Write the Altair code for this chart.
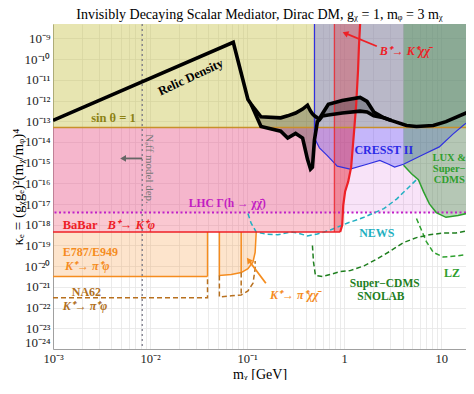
import altair as alt
import pandas as pd

XMIN, XMAX = 1e-3, 18.0
YMIN, YMAX = 1e-24, 5e-9
W, H = 413, 325
FONT = "Liberation Serif"

# ---------------- data ----------------
SIN_LEVEL = 5e-14          # sin(theta)=1
LHC_LEVEL = 3.9e-18        # LHC Gamma(h -> chi chibar)
BABAR_LEVEL = 4.5e-19      # BaBar B+ -> K+ phi
E949_LEVEL = 3.2e-21       # E787/E949 lower edge
NA62_LEVEL = 3.0e-22       # NA62 projection
NEFF_M = 8.3e-3            # N_eff model-dependent bound
BKXX_M = 0.791             # left edge of B+ -> K+ chi chibar band
E949_GAP = [0.0391, 0.0518]
E949_MID = 0.0869

relic_m = [1e-3, 0.072, 0.102, 0.110, 0.139, 0.222, 0.262, 0.316, 0.373, 0.419, 0.450, 0.471,
           0.494, 0.530, 0.556, 0.597, 0.687, 0.955, 1.46, 1.72, 2.02, 2.56, 3.09, 4.39, 5.56,
           8.28, 11.2, 20.0]
relic_k = [1.1e-13, 6.5e-10, 1.14e-12, 6.6e-13, 1.64e-13, 1.47e-13, 1.83e-13, 2.5e-13, 3.9e-13,
           6.0e-13, 3.1e-13, 2.3e-13, 1.83e-13, 1.47e-13, 1.32e-13, 2.3e-13, 6.6e-13, 1.02e-12,
           1.41e-12, 9.1e-13, 2.8e-13, 1.47e-13, 1.07e-13, 6.2e-14, 5.6e-14, 6.2e-14, 9.6e-14,
           3.1e-13]
relic_low_m = relic_m[3:23]
relic_low_k = [6.6e-13, 5.6e-14, 3.3e-14, 1.54e-14, 2.6e-14, 1.54e-14, 1.44e-15, 4.9e-16,
               6.1e-16, 1.24e-14, 9.6e-14, 1.19e-13, 1.83e-13, 2.0e-13, 2.5e-13, 3.1e-13,
               2.8e-13, 1.83e-13, 1.47e-13, 1.07e-13]

cresst_m = [0.494, 0.556, 0.671, 0.849, 1.15, 1.72, 2.33, 2.88, 3.31, 4.09, 6.55, 9.55, 13.2, 16.8, 20.0]
cresst_k = [1.54e-14, 5.2e-15, 2.2e-15, 6.8e-16, 4.9e-16, 8.4e-16, 1.29e-15, 8.4e-16, 6.1e-16,
            8.4e-16, 2.5e-15, 5.8e-15, 2.4e-14, 6.2e-14, 1.19e-13]

lux_m = [4.09, 4.94, 5.82, 6.55, 7.55, 8.89, 11.2, 14.9, 20.0]
lux_k = [7.6e-16, 2.9e-16, 1.5e-16, 4.1e-17, 1.02e-17, 3.9e-18, 2.3e-18, 2.8e-18, 3.9e-18]

lz_m = [5.56, 6.25, 7.03, 8.28, 10.5, 14.2, 20.0]
lz_k = [2.0e-18, 5.6e-19, 1.54e-19, 4.7e-20, 2.75e-20, 3.1e-20, 3.8e-20]

sno_m = [0.471, 0.483, 0.506, 0.597, 0.720, 0.910, 1.15, 1.60, 2.17, 2.95, 4.09, 5.56, 7.55,
         10.5, 14.2, 20.0]
sno_k = [1.0e-19, 1.61e-20, 3.6e-21, 3.2e-21, 4.0e-21, 5.5e-21, 6.1e-21, 1.04e-20, 2.2e-20,
         5.2e-20, 1.38e-19, 2.4e-19, 3.3e-19, 4.0e-19, 4.0e-19, 5.6e-19]

news_m = [0.102, 0.110, 0.124, 0.153, 0.207, 0.281, 0.331, 0.419, 0.530, 0.720, 1.07, 1.60,
          2.56, 3.47, 4.39, 5.69]
news_k = [3.5e-18, 1.19e-18, 4.5e-19, 3.6e-19, 3.3e-19, 4.5e-19, 4.0e-19, 2.9e-19, 3.6e-19,
          5.6e-19, 1.19e-18, 2.3e-18, 6.0e-18, 1.75e-17, 5.1e-17, 1.68e-16]

bk_m = [0.910, 0.955, 0.977, 1.023, 1.10, 1.18, 1.26, 1.33, 1.39, 1.42, 1.46]
bk_k = [4.5e-19, 9.6e-19, 8.2e-18, 4.1e-17, 1.21e-16, 6.1e-16, 2.6e-14, 6.6e-13, 2.9e-11,
        4.2e-10, 5e-9]
bk_at_sin_m = 1.28

e949_m = [0.0518, 0.0687, 0.0869, 0.102, 0.115, 0.121, 0.124]
e949_k = [3.6e-21, 4.0e-21, 4.9e-21, 7.6e-21, 1.61e-20, 4.7e-20, 4.0e-19]

na62_m = [0.0518, 0.0518, 0.0687, 0.0869, 0.102, 0.115, 0.121, 0.121]
na62_k = [3.6e-21, 3.3e-22, 3.7e-22, 4.1e-22, 6.4e-22, 1.51e-21, 7.6e-21, 1.79e-20]
na62_mid_k = 4.1e-22

# ---------------- scales / axes ----------------
SUP = str.maketrans("-0123456789", "⁻⁰¹²³⁴⁵⁶⁷⁸⁹")
x_dec = [-3, -2, -1, 0, 1]
x_lab = ["10⁻³", "10⁻²", "10⁻¹", "1", "10"]
y_dec = list(range(-24, -8))
y_lab = ["10" + str(e).translate(SUP) for e in y_dec]


def lab_expr(decs, labs):
    expr = "''"
    for d, l in zip(decs, labs):
        expr = f"(abs(log(datum.value)/LN10 - ({d})) < 0.01 ? '{l}' : {expr})"
    return expr


x_vals = [d * 10.0 ** e for e in range(-3, 2) for d in range(1, 10) if d * 10.0 ** e <= XMAX]
y_vals = [10.0 ** e for e in y_dec]

xscale = alt.Scale(type="log", domain=[XMIN, XMAX], nice=False)
yscale = alt.Scale(type="log", domain=[YMIN, YMAX], nice=False)

xaxis = alt.Axis(values=x_vals, labelExpr=lab_expr(x_dec, x_lab), labelOverlap=False,
                 labelFlush=False, ticks=False, grid=True, gridColor="#e6e6e6", gridWidth=0.8,
                 domainColor="#a0a0a0", labelFont=FONT, labelFontSize=12.5, labelPadding=3,
                 labelColor="#222", title="mᵪ [GeV]", titleFont=FONT, titleFontSize=14,
                 titleFontWeight="normal", titleX=W / 2, titleY=29, titleBaseline="alphabetic")
yaxis = alt.Axis(values=y_vals, labelExpr=lab_expr(y_dec, y_lab), labelOverlap=False,
                 labelFlush=True, ticks=False, grid=True, gridColor="#e6e6e6", gridWidth=0.8,
                 domainColor="#a0a0a0", labelFont=FONT, labelFontSize=13, labelPadding=3,
                 labelColor="#222", title="κₑ = (gᵪgₑ)²(mᵪ/mᵩ)⁴", titleFont=FONT,
                 titleFontSize=15, titleFontWeight="normal", titleX=-31, titleY=H / 2,
                 titleAngle=270, titleAlign="center", titleBaseline="alphabetic")


def X(f="m"):
    return alt.X(f, type="quantitative", scale=xscale, axis=xaxis)


def Y(f="k"):
    return alt.Y(f, type="quantitative", scale=yscale, axis=yaxis)


def paths(segs):
    rows = []
    for g, (ms, ks) in enumerate(segs):
        for i, (m, k) in enumerate(zip(ms, ks)):
            rows.append({"m": m, "k": k, "grp": g, "ord": i})
    return pd.DataFrame(rows)


def line(segs, color, width, dash=None, opacity=1.0):
    kw = dict(color=color, strokeWidth=width, clip=True, opacity=opacity)
    if dash:
        kw["strokeDash"] = dash
    return alt.Chart(paths(segs)).mark_line(**kw).encode(
        x=X(), y=Y(), detail="grp:N", order="ord:Q")


def rect(m1, m2, k1, k2, color, op):
    df = pd.DataFrame({"m": [m1], "m2": [m2], "k": [k1], "k2": [k2]})
    return alt.Chart(df).mark_rect(color=color, opacity=op, clip=True).encode(
        x=X(), x2="m2", y=Y(), y2="k2")


def area_to(ms, ks, top, color, op):
    df = pd.DataFrame({"m": ms, "k": ks, "k2": [top] * len(ms)})
    return alt.Chart(df).mark_area(color=color, opacity=op, clip=True).encode(
        x=X(), y=Y(), y2="k2")


def harea(ks, m_left, m_right, color, op):
    df = pd.DataFrame({"k": ks, "m": m_left, "m2": m_right})
    return alt.Chart(df).mark_area(color=color, opacity=op, orient="horizontal", clip=True).encode(
        y=Y(), x=X(), x2="m2")


def hrule(k, color, width, dash=None):
    kw = dict(color=color, strokeWidth=width, clip=True)
    if dash:
        kw["strokeDash"] = dash
    return alt.Chart(pd.DataFrame({"k": [k]})).mark_rule(**kw).encode(y=Y())


layers = []
# fills
layers.append(rect(XMIN, XMAX, LHC_LEVEL, SIN_LEVEL, "#d040d0", 0.15))
bf_k = bk_k[:7] + [SIN_LEVEL]
bf_m = bk_m[:7] + [bk_at_sin_m]
layers.append(harea(bf_k, [XMIN] * len(bf_k), bf_m, "#f0607a", 0.35))
layers.append(rect(XMIN, E949_GAP[0], E949_LEVEL, BABAR_LEVEL, "#f5902a", 0.24))
layers.append(area_to(e949_m, e949_k, BABAR_LEVEL, "#f5902a", 0.24))
layers.append(rect(XMIN, XMAX, SIN_LEVEL, YMAX, "#c4be3c", 0.4))
layers.append(area_to(cresst_m, cresst_k, YMAX, "#5050ff", 0.3))
layers.append(harea(bk_k, [BKXX_M] * len(bk_k), bk_m, "#e6202e", 0.3))
layers.append(area_to(lux_m, lux_k, YMAX, "#2f8f2f", 0.33))
band = pd.DataFrame({"m": relic_low_m, "k": relic_low_k, "k2": relic_k[3:23]})
layers.append(alt.Chart(band).mark_area(color="#000000", opacity=0.25, clip=True).encode(
    x=X(), y=Y(), y2="k2"))

# lines
layers.append(hrule(SIN_LEVEL, "#c8902a", 1.6))
layers.append(hrule(LHC_LEVEL, "#c020c8", 2, [2, 2.5]))
layers.append(line([([E949_GAP[0], XMIN], [E949_LEVEL, E949_LEVEL]),
                    ([E949_GAP[0], E949_GAP[0]], [E949_LEVEL, BABAR_LEVEL]),
                    ([E949_GAP[1]] + e949_m + [e949_m[-1]], [BABAR_LEVEL] + e949_k + [BABAR_LEVEL]),
                    ([E949_MID, E949_MID], [BABAR_LEVEL, e949_k[2]])], "#f58c1e", 1.5))
layers.append(line([([XMIN, E949_GAP[0], E949_GAP[0]], [NA62_LEVEL, NA62_LEVEL, E949_LEVEL]),
                    (na62_m, na62_k),
                    ([E949_MID, E949_MID], [e949_k[2], na62_mid_k])], "#b8701e", 1.5, [5, 3]))
layers.append(line([(news_m, news_k)], "#22b0c2", 1.5, [5, 3]))
layers.append(line([(lz_m, lz_k)], "#2ea02e", 1.5, [5, 3]))
layers.append(line([(sno_m, sno_k)], "#1f7f1f", 1.5, [5, 3]))
layers.append(line([([cresst_m[0]] + cresst_m, [YMAX] + cresst_k)], "#3030e0", 1.2))
layers.append(line([(lux_m, lux_k)], "#2ea02e", 1.5))
layers.append(line([([XMIN, bk_m[0]], [BABAR_LEVEL, BABAR_LEVEL])], "#ee2026", 1.5))
layers.append(line([(bk_m, bk_k)], "#ee2026", 2.2))
layers.append(line([([BKXX_M, BKXX_M], [BABAR_LEVEL, YMAX])], "#ee2026", 1.0))
layers.append(alt.Chart(pd.DataFrame({"m": [NEFF_M]})).mark_rule(
    color="#707080", strokeWidth=1.2, strokeDash=[2, 3]).encode(x=X()))
layers.append(line([(relic_m, relic_k), (relic_low_m, relic_low_k)], "#000000", 3.6))

# arrows: (m_start, k_start, m_end, k_end, color, angle)
arrows = [
    (NEFF_M, 1.6e-15, 5.4e-3, 1.6e-15, "#666666", 270),
    (0.156, 1.51e-21, 0.105, 1.79e-20, "#f58c1e", 323),
    (2.17, 4.2e-10, 1.05, 1.7e-9, "#ee2026", 293),
]
for m0, k0, m1, k1, c, ang in arrows:
    layers.append(line([([m0, m1], [k0, k1])], c, 1.8))
    layers.append(alt.Chart(pd.DataFrame({"m": [m1], "k": [k1]})).mark_point(
        shape="triangle", filled=True, size=45, color=c, opacity=1, angle=ang).encode(x=X(), y=Y()))

# text labels: (text, m, k, color, size, weight, style, align, angle)
texts = [
    ("sin θ = 1", 4.2e-3, 1.47e-13, "#8c8214", 12.5, "bold", "normal", "center", 0),
    ("Relic Density", 0.0262, 1.35e-11, "#000000", 12.5, "bold", "normal", "center", 335),
    ("CRESST II", 2.56, 4.2e-15, "#2a2ae6", 12, "bold", "normal", "center", 0),
    ("LUX &", 12.1, 1.7e-15, "#2e9e2e", 10.5, "bold", "normal", "center", 0),
    ("Super−", 12.1, 5.1e-16, "#2e9e2e", 10.5, "bold", "normal", "center", 0),
    ("CDMS", 12.1, 1.5e-16, "#2e9e2e", 10.5, "bold", "normal", "center", 0),
    ("LHC Γ(h → χχ̄)", 0.0625, 1.02e-17, "#c21cc2", 11.5, "bold", "normal", "center", 0),
    ("BaBar", 1.26e-3, 9.6e-19, "#ee2026", 12.5, "bold", "normal", "left", 0),
    ("B⁺→ K⁺φ", 3.64e-3, 9.6e-19, "#ee2026", 12.5, "bold", "italic", "left", 0),
    ("E787/E949", 1.26e-3, 4.9e-20, "#f58c1e", 12, "bold", "normal", "left", 0),
    ("K⁺→ π⁺φ", 1.33e-3, 1.0e-20, "#f58c1e", 12, "bold", "italic", "left", 0),
    ("NA62", 1.56e-3, 5.6e-22, "#b0701e", 12, "bold", "normal", "left", 0),
    ("K⁺→ π⁺φ", 1.26e-3, 1.15e-22, "#b0701e", 12, "bold", "italic", "left", 0),
    ("K⁺→ π⁺χχ̄", 0.172, 4.1e-22, "#f58c1e", 12, "bold", "italic", "left", 0),
    ("B⁺→ K⁺χχ̄", 2.33, 2.5e-10, "#ee2026", 12, "bold", "italic", "left", 0),
    ("NEWS", 2.17, 4.0e-19, "#1fb0c0", 12, "bold", "normal", "center", 0),
    ("LZ", 12.9, 4.9e-21, "#2e9e2e", 12, "bold", "normal", "center", 0),
    ("Super−CDMS", 2.62, 1.4e-21, "#1f7f1f", 11.5, "bold", "normal", "center", 0),
    ("SNOLAB", 2.39, 3.4e-22, "#1f7f1f", 11.5, "bold", "normal", "center", 0),
    ("Nₑff model dep.", 9.8e-3, 4.9e-16, "#777777", 11, "normal", "normal", "center", 90),
]
for t, m, k, c, s, w, st, al, ang in texts:
    df = pd.DataFrame({"m": [m], "k": [k], "t": [t]})
    layers.append(alt.Chart(df).mark_text(
        font=FONT, fontSize=s, fontWeight=w, fontStyle=st, color=c, align=al,
        baseline="middle", angle=ang).encode(x=X(), y=Y(), text="t:N"))

chart = alt.layer(*layers).properties(
    width=W, height=H,
    title=alt.TitleParams(
        text="Invisibly Decaying Scalar Mediator, Dirac DM, gᵪ = 1,   mᵩ = 3 mᵪ",
        font=FONT, fontSize=14, fontWeight="normal", anchor="middle", offset=1, color="#000"),
    autosize=alt.AutoSizeParams(type="none"),
    padding={"left": 45, "top": 16, "right": 0, "bottom": 31},
    background="white",
).configure_view(stroke=None)

chart.save("out.html", embed_options={"renderer": "svg", "actions": False})
